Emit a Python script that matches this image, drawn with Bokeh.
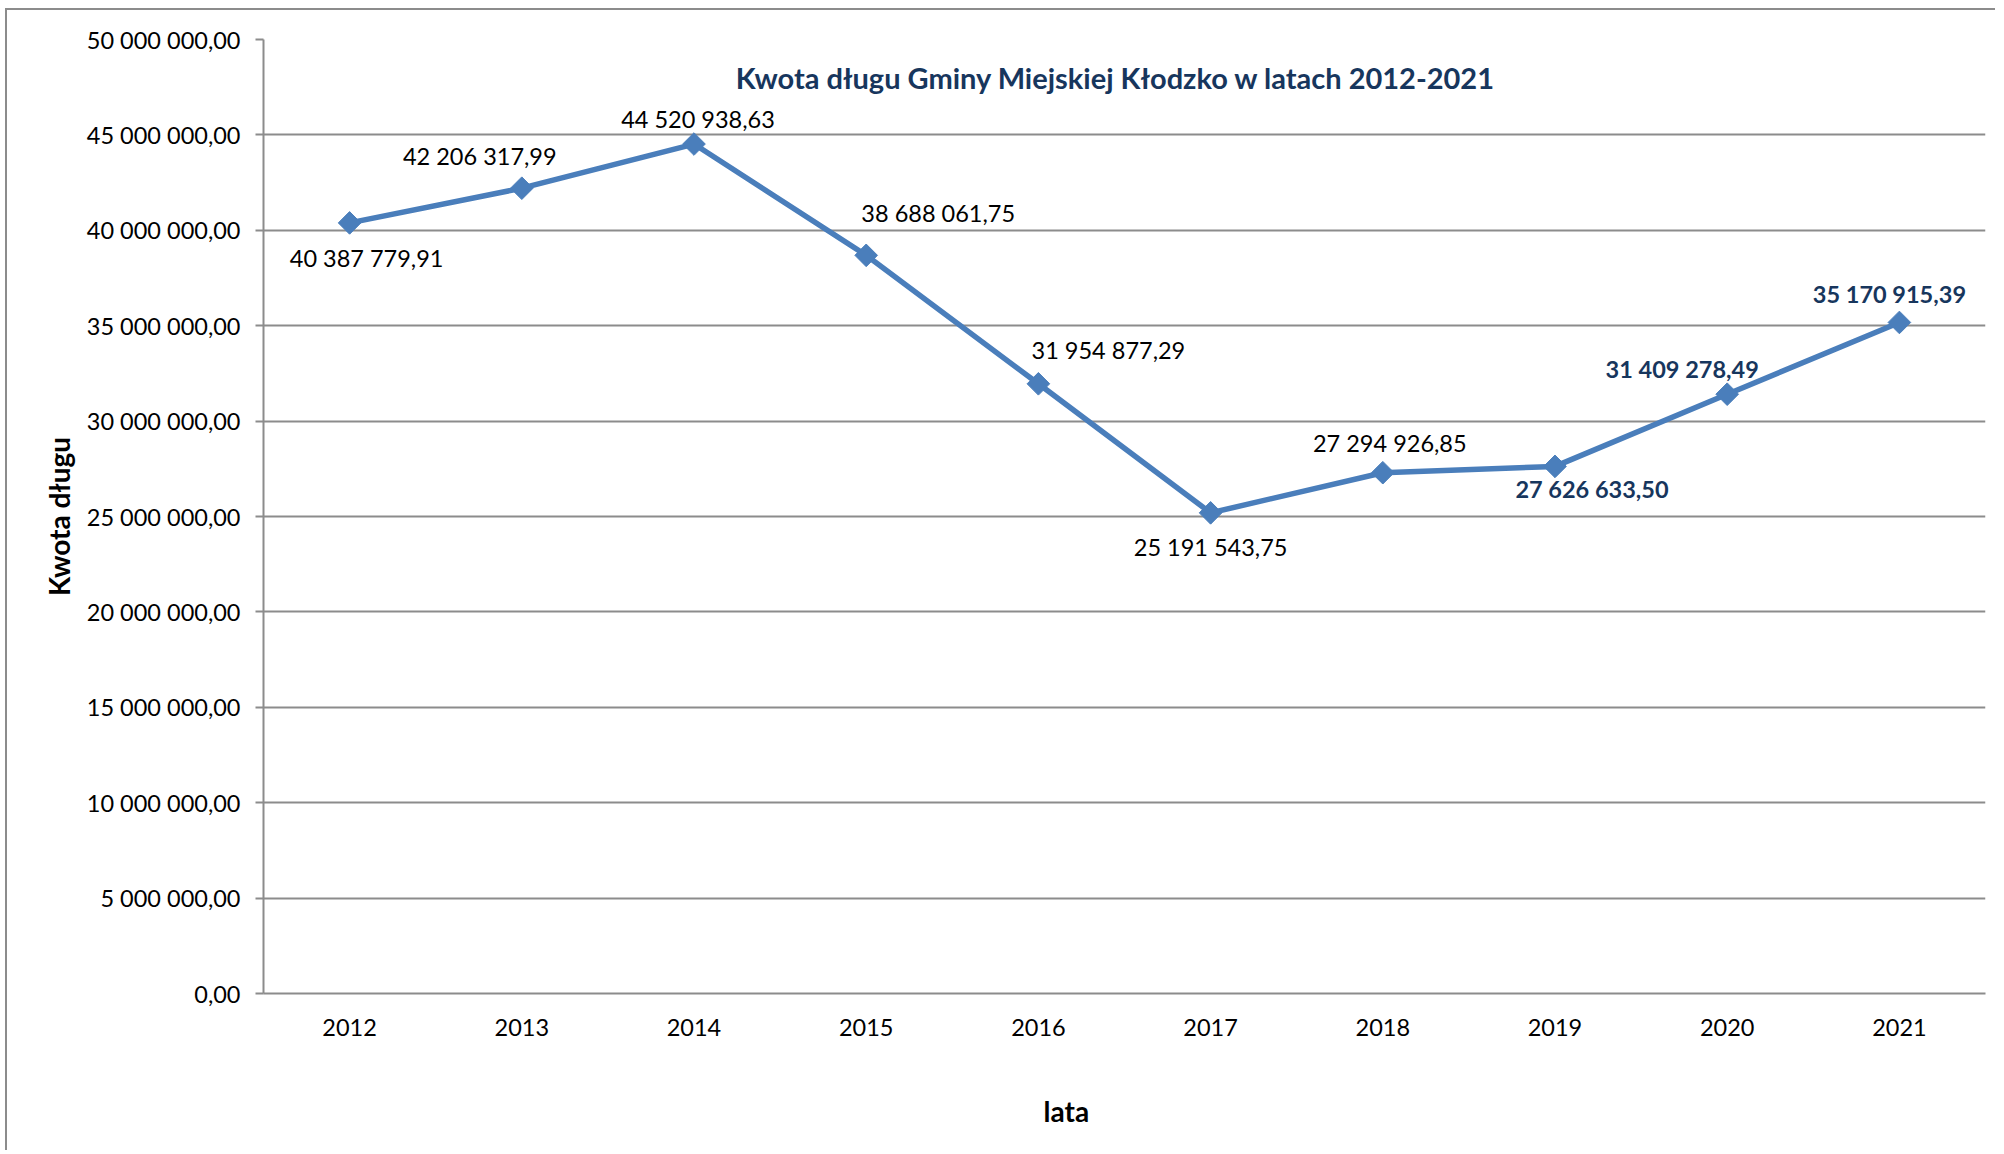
from bokeh.plotting import figure
from bokeh.models import FactorRange, Range1d, ColumnDataSource, Label, FixedTicker, Title
from bokeh.core.properties import value
from bokeh.embed import file_html
from bokeh.resources import INLINE

# ---- data ----
years = ["2012", "2013", "2014", "2015", "2016", "2017", "2018", "2019", "2020", "2021"]
debt = [40387779.91, 42206317.99, 44520938.63, 38688061.75, 31954877.29,
        25191543.75, 27294926.85, 27626633.50, 31409278.49, 35170915.39]
y_ticks = [0, 5e6, 10e6, 15e6, 20e6, 25e6, 30e6, 35e6, 40e6, 45e6, 50e6]
y_tick_labels = ["0,00", "5 000 000,00", "10 000 000,00", "15 000 000,00", "20 000 000,00",
                 "25 000 000,00", "30 000 000,00", "35 000 000,00", "40 000 000,00",
                 "45 000 000,00", "50 000 000,00"]
title_text = "Kwota długu Gminy Miejskiej Kłodzko w latach 2012-2021"
y_title = "Kwota długu"
x_title = "lata"

# ---- label placement (screen px, +y down) and styles ----
lab_dx = [17, -42, 4, 72, 70, 0, 7, 37, -45, -10]
lab_dy = [35, -32, -25, -42, -34, 34, -30, 23, -25, -28]
navy = "#17365D"
lab_style = ["normal"] * 7 + ["bold"] * 3
lab_color = ["#000000"] * 7 + [navy] * 3

def fmt(v):
    return f"{v:,.2f}".replace(",", " ").replace(".", ",")

FONT = "Lato"
GRAY = "#8c8c8c"
BLUE = "#4A7EBB"

p = figure(width=1990, height=1142, x_range=FactorRange(*years),
           y_range=Range1d(0, 50e6), output_backend="svg", toolbar_location=None,
           min_border_left=256, min_border_right=12, min_border_top=29, min_border_bottom=159)
p.styles = {"border-left": f"2px solid {GRAY}", "border-top": f"2px solid {GRAY}",
            "margin-left": "5px", "margin-top": "8px"}
p.outline_line_color = None
p.background_fill_color = "white"
p.border_fill_color = "white"

p.xgrid.grid_line_color = None
p.ygrid.grid_line_color = GRAY
p.ygrid.grid_line_width = 2
p.yaxis.ticker = FixedTicker(ticks=y_ticks)
p.yaxis.major_label_overrides = {t: l for t, l in zip(y_ticks, y_tick_labels)}

for ax in (p.xaxis, p.yaxis):
    ax.axis_line_color = GRAY
    ax.axis_line_width = 2
    ax.major_tick_line_color = GRAY
    ax.major_tick_line_width = 2
    ax.minor_tick_line_color = None
    ax.major_label_text_font = FONT
    ax.major_label_text_font_size = "23.5px"
    ax.major_label_text_color = "black"

p.yaxis.major_tick_in = 0
p.yaxis.major_tick_out = 8
p.yaxis.major_label_standoff = 15
p.xaxis.major_tick_in = 0
p.xaxis.major_tick_out = 0
p.xaxis.major_label_standoff = 25
# invisible spacer below the tick labels (pushes the "lata" title down)
p.xaxis.axis_label = "\u00a0"
p.xaxis.axis_label_text_font_size = "1px"
p.xaxis.axis_label_standoff = 29

p.yaxis.axis_label = y_title
p.yaxis.axis_label_text_font = FONT
p.yaxis.axis_label_text_font_style = "bold"
p.yaxis.axis_label_text_font_size = "28px"
p.yaxis.axis_label_text_color = "black"
p.yaxis.axis_label_standoff = 8

src = ColumnDataSource(dict(
    x=years, y=debt, lab=[fmt(v) for v in debt], dx=lab_dx, dy=lab_dy,
    st=lab_style, col=lab_color))

p.line("x", "y", source=src, line_color=BLUE, line_width=5.5)
p.scatter("x", "y", source=src, marker="square", size=16, angle=0.785398,
          fill_color=BLUE, line_color=BLUE)
p.text("x", "y", text="lab", source=src, x_offset="dx", y_offset="dy",
       text_font=value(FONT), text_font_size="23.5px", text_font_style="st",
       text_color="col", text_align="center", text_baseline="middle")

p.add_layout(Label(x=4.95, y=48.0e6, text=title_text, text_font=FONT,
                   text_font_style="bold", text_font_size="29px", text_color=navy,
                   text_align="center", text_baseline="middle"))
p.add_layout(Title(text=x_title, align="left", offset=780, standoff=41,
                   text_font=FONT, text_font_style="bold", text_font_size="28px",
                   text_color="black"), "below")

open("out.html", "w").write(file_html(p, INLINE))
